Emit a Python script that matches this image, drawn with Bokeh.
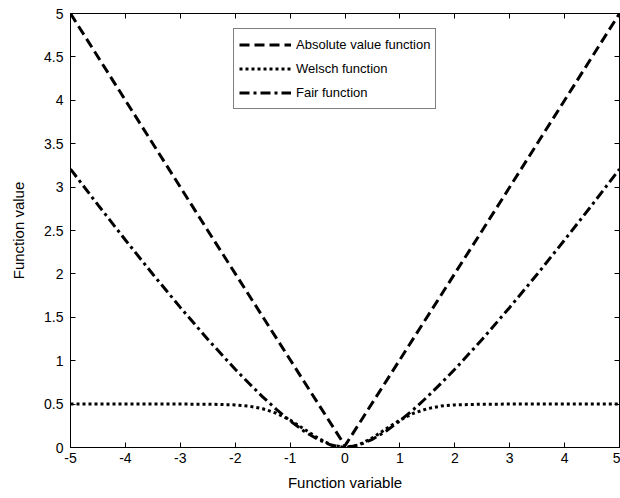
from bokeh.plotting import figure
from bokeh.models import LinearAxis, Range1d, FixedTicker, Legend, LegendItem
from bokeh.embed import file_html
from bokeh.resources import INLINE

# Data
x_abs = [-5, -2.5, 0, 2.5, 5]
y_abs = [5, 2.5, 0.02, 2.5, 5]

x_fn = [-5, -4.5, -4, -3.5, -3, -2.5, -2, -1.75, -1.5, -1.25, -1, -0.75, -0.5, -0.25, 0,
        0.25, 0.5, 0.75, 1, 1.25, 1.5, 1.75, 2, 2.5, 3, 3.5, 4, 4.5, 5]
y_welsch = [0.5, 0.5, 0.5, 0.5, 0.5, 0.499, 0.491, 0.477, 0.447, 0.395, 0.316, 0.215, 0.111, 0.030, 0,
            0.030, 0.111, 0.215, 0.316, 0.395, 0.447, 0.477, 0.491, 0.499, 0.5, 0.5, 0.5, 0.5, 0.5]
y_fair = [3.208, 2.795, 2.391, 1.996, 1.614, 1.247, 0.901, 0.740, 0.584, 0.439, 0.307, 0.190, 0.095, 0.027, 0,
          0.027, 0.095, 0.190, 0.307, 0.439, 0.584, 0.740, 0.901, 1.247, 1.614, 1.996, 2.391, 2.795, 3.208]

x_ticks = [-5, -4, -3, -2, -1, 0, 1, 2, 3, 4, 5]
x_tick_labels = ["-5", "-4", "-3", "-2", "-1", "0", "1", "2", "3", "4", "5"]
y_ticks = [0, 0.5, 1, 1.5, 2, 2.5, 3, 3.5, 4, 4.5, 5]
y_tick_labels = ["0", "0.5", "1", "1.5", "2", "2.5", "3", "3.5", "4", "4.5", "5"]

FONT = "Liberation Sans"

p = figure(width=620, height=498, output_backend="svg", toolbar_location=None,
           x_range=Range1d(-5, 5), y_range=Range1d(0, 5),
           min_border_left=70, min_border_right=1, min_border_top=13, min_border_bottom=51)
p.xgrid.visible = False
p.ygrid.visible = False
p.outline_line_color = "black"
p.outline_line_width = 1
p.background_fill_color = "white"
p.border_fill_color = "white"

r1 = p.line(x_abs, y_abs, line_color="black", line_width=3, line_dash="10 5")
r2 = p.line(x_fn, y_welsch, line_color="black", line_width=3, line_dash="3 3")
r3 = p.line(x_fn, y_fair, line_color="black", line_width=3, line_dash="10 4 3 4")

xa = p.xaxis[0]
ya = p.yaxis[0]
xa.ticker = FixedTicker(ticks=x_ticks)
xa.major_label_overrides = dict(zip(x_ticks, x_tick_labels))
xa.axis_label = "Function variable"
ya.ticker = FixedTicker(ticks=y_ticks)
ya.major_label_overrides = dict(zip(y_ticks, y_tick_labels))
ya.axis_label = "Function value"

def style(ax):
    ax.major_tick_in = 5
    ax.major_tick_out = 0
    ax.minor_tick_line_color = None
    ax.axis_line_color = "black"
    ax.major_tick_line_color = "black"
    ax.major_label_text_font = FONT
    ax.major_label_text_font_size = "14px"
    ax.major_label_text_color = "black"
    ax.axis_label_text_font = FONT
    ax.axis_label_text_font_size = "15px"
    ax.axis_label_text_font_style = "normal"
    ax.axis_label_text_color = "black"

style(xa)
style(ya)
xa.major_label_standoff = 5
xa.axis_label_standoff = 8
ya.major_label_standoff = 7
ya.axis_label_standoff = 14

top = LinearAxis(ticker=FixedTicker(ticks=x_ticks))
right = LinearAxis(ticker=FixedTicker(ticks=y_ticks))
for ax in (top, right):
    style(ax)
    ax.major_label_text_font_size = "0px"
    ax.major_label_text_color = None
    ax.major_label_standoff = 0
p.add_layout(top, "above")
p.add_layout(right, "right")

legend = Legend(items=[
    LegendItem(label="Absolute value function", renderers=[r1]),
    LegendItem(label="Welsch function", renderers=[r2]),
    LegendItem(label="Fair function", renderers=[r3]),
], location=(163, 338))
legend.label_text_font = FONT
legend.label_text_font_size = "13px"
legend.label_text_color = "black"
legend.glyph_width = 52
legend.glyph_height = 21
legend.label_height = 21
legend.spacing = 3
legend.padding = 5
legend.margin = 0
legend.label_standoff = 5
legend.border_line_color = "black"
legend.border_line_width = 1
legend.background_fill_alpha = 1
p.add_layout(legend, "center")

open("out.html", "w").write(file_html(p, INLINE))
